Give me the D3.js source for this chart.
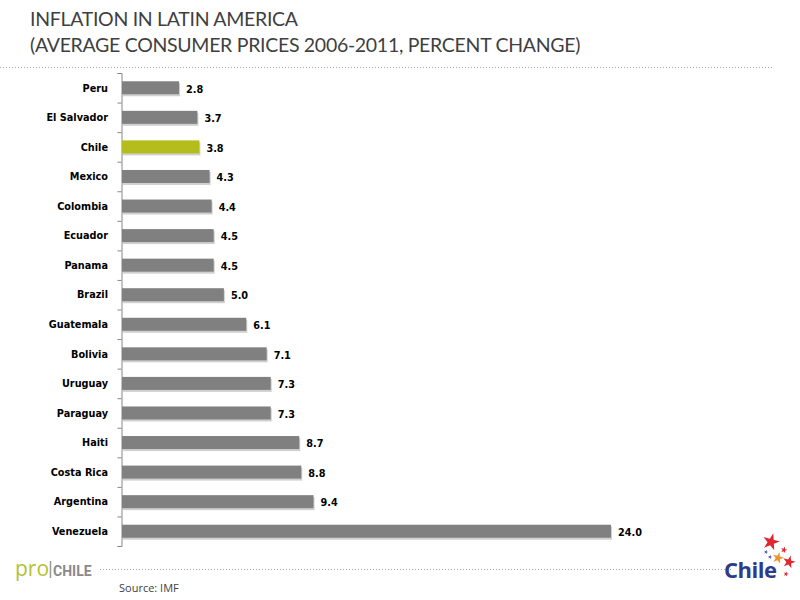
<!DOCTYPE html>
<html>
<head>
<meta charset="utf-8">
<script src="https://cdn.jsdelivr.net/npm/d3@7"></script>
<style>
  body { margin: 0; background: #fff; }
  svg { display: block; }
</style>
</head>
<body>
<div id="chart"></div>
<script>
"use strict";

// Data
var countries = ['Peru', 'El Salvador', 'Chile', 'Mexico', 'Colombia', 'Ecuador',
  'Panama', 'Brazil', 'Guatemala', 'Bolivia', 'Uruguay', 'Paraguay', 'Haiti',
  'Costa Rica', 'Argentina', 'Venezuela'];
var inflation = [2.8, 3.7, 3.8, 4.3, 4.4, 4.5, 4.5, 5.0, 6.1, 7.1, 7.3, 7.3, 8.7, 8.8, 9.4, 24.0];
var highlight = 'Chile';

var width = 800;
var height = 600;

var svg = d3.select('#chart')
  .append('svg')
    .attr('width', width)
    .attr('height', height);

// Title
var title = svg.append('text')
  .attr('x', 30)
  .attr('font-family', 'Lato, "Open Sans", sans-serif')
  .attr('font-size', 19.5)
  .attr('letter-spacing', -0.3)
  .attr('fill', '#3f3f3f');
title.append('tspan').attr('x', 30).attr('y', 26).text('INFLATION IN LATIN AMERICA');
title.append('tspan').attr('x', 30).attr('y', 52).text('(AVERAGE CONSUMER PRICES 2006-2011, PERCENT CHANGE)');

// Dotted rules
svg.append('line')
  .attr('x1', 0).attr('x2', 772).attr('y1', 67.5).attr('y2', 67.5)
  .attr('stroke', '#a6a6a6').attr('stroke-dasharray', '1,2');
svg.append('line')
  .attr('x1', 100).attr('x2', 732).attr('y1', 569.5).attr('y2', 569.5)
  .attr('stroke', '#a6a6a6').attr('stroke-dasharray', '1,2');

// Scales
var x = d3.scaleLinear()
  .domain([0, 24])
  .range([122, 611]);

var y = d3.scaleBand()
  .domain(countries)
  .range([73, 546])
  .paddingInner(0.56)
  .paddingOuter(0.28);

// Axis: tick marks sit between categories
var axisLine = d3.scaleLinear().domain([0, countries.length]).range([73, 546]);
var axisG = svg.append('g')
  .attr('transform', 'translate(121.5,0)')
  .call(d3.axisLeft(axisLine)
    .ticks(countries.length)
    .tickSize(4)
    .tickFormat(''));
axisG.select('.domain').attr('stroke', '#868686');
axisG.selectAll('.tick line').attr('stroke', '#868686');

// Category labels
svg.append('g')
  .selectAll('text')
  .data(countries)
  .enter()
  .append('text')
    .attr('x', 108)
    .attr('y', function (d) { return y(d) + y.bandwidth() / 2; })
    .attr('dy', '0.35em')
    .attr('text-anchor', 'end')
    .attr('font-family', '"DejaVu Sans Condensed", "DejaVu Sans", sans-serif')
    .attr('font-weight', 'bold')
    .attr('font-size', 10.8)
    .attr('fill', '#000')
    .text(function (d) { return d; });

// Bar shadows
var bars = svg.append('g');
bars.selectAll('rect.shadow')
  .data(countries)
  .enter()
  .append('rect')
    .attr('class', 'shadow')
    .attr('x', x(0) + 1)
    .attr('y', function (d) { return y(d) + 2; })
    .attr('width', function (d, i) { return x(inflation[i]) - x(0); })
    .attr('height', y.bandwidth())
    .attr('fill', '#d0d0d0');

// Bars
bars.selectAll('rect.bar')
  .data(countries)
  .enter()
  .append('rect')
    .attr('class', 'bar')
    .attr('x', x(0))
    .attr('y', function (d) { return y(d); })
    .attr('width', function (d, i) { return x(inflation[i]) - x(0); })
    .attr('height', y.bandwidth())
    .attr('fill', function (d) { return d === highlight ? '#b5bd1c' : '#808080'; });

// Value labels
svg.append('g')
  .selectAll('text')
  .data(countries)
  .enter()
  .append('text')
    .attr('x', function (d, i) { return x(inflation[i]) + 7; })
    .attr('y', function (d) { return y(d) + y.bandwidth() / 2 + 1; })
    .attr('dy', '0.35em')
    .attr('font-family', '"DejaVu Sans Condensed", "DejaVu Sans", sans-serif')
    .attr('font-weight', 'bold')
    .attr('font-size', 10.8)
    .attr('fill', '#000')
    .text(function (d, i) { return inflation[i].toFixed(1); });

// Source
svg.append('text')
  .attr('x', 119)
  .attr('y', 592)
  .attr('font-family', '"Open Sans", sans-serif')
  .attr('font-size', 11)
  .attr('fill', '#404040')
  .text('Source: IMF');

// proChile logo
var pro = svg.append('g');
pro.append('text')
  .attr('x', 15).attr('y', 576)
  .attr('font-family', '"Open Sans", sans-serif')
  .attr('font-size', 21)
  .attr('fill', '#b3c232')
  .text('pro');
pro.append('line')
  .attr('x1', 50.5).attr('x2', 50.5).attr('y1', 561).attr('y2', 578)
  .attr('stroke', '#999').attr('stroke-width', 1.5);
pro.append('text')
  .attr('x', 53).attr('y', 576)
  .attr('font-family', 'Roboto, "Open Sans", sans-serif')
  .attr('font-weight', 'bold')
  .attr('font-size', 14)
  .attr('fill', '#8a8a8a')
  .text('CHILE');

// Chile logo
var logo = svg.append('g');
logo.append('text')
  .attr('x', 724).attr('y', 578)
  .attr('font-family', '"Open Sans", sans-serif')
  .attr('font-weight', 'bold')
  .attr('font-size', 22)
  .attr('letter-spacing', -0.5)
  .attr('fill', '#2e3b8c')
  .text('Chile');
var stars = [
  { x: 771, y: 542, size: 90, color: '#e0262f' },
  { x: 784, y: 550, size: 14, color: '#e0262f' },
  { x: 778, y: 558, size: 40, color: '#f0922a' },
  { x: 789, y: 562, size: 50, color: '#e0262f' },
  { x: 766, y: 552, size: 6, color: '#4a5aa8' },
  { x: 770, y: 557, size: 6, color: '#4a5aa8' },
  { x: 786, y: 574, size: 8, color: '#e0262f' }
];
logo.selectAll('path')
  .data(stars)
  .enter()
  .append('path')
    .attr('transform', function (d) { return 'translate(' + d.x + ',' + d.y + ') rotate(15)'; })
    .attr('d', function (d) { return d3.symbol(d3.symbolStar, d.size)(); })
    .attr('fill', function (d) { return d.color; });
</script>
</body>
</html>
